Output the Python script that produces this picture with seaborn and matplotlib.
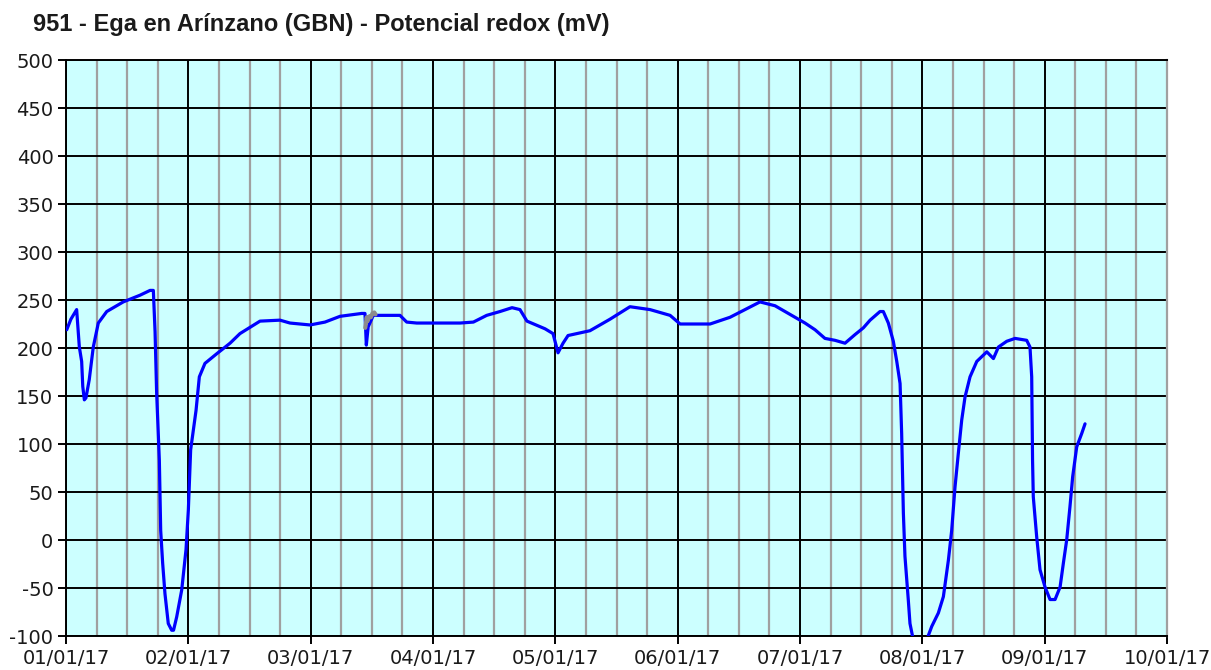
import matplotlib
matplotlib.use("Agg")
import matplotlib.pyplot as plt
from matplotlib.ticker import MultipleLocator, FixedLocator
import seaborn as sns
import pandas as pd

# ---- data (x = months since 01/01/17; axis uses equal month spacing) ----
mes = [0.006, 0.04, 0.087, 0.109, 0.128, 0.137, 0.150, 0.163, 0.190, 0.223,
       0.264, 0.333, 0.468, 0.605, 0.687, 0.714, 0.728, 0.741, 0.763, 0.774,
       0.790, 0.809, 0.836, 0.864, 0.879, 0.905, 0.946, 0.981, 1.000, 1.019,
       1.063, 1.090, 1.136, 1.232, 1.341, 1.422, 1.586, 1.749, 1.831, 1.995,
       2.117, 2.240, 2.417, 2.444, 2.455, 2.470, 2.512, 2.730, 2.785, 2.867,
       3.003, 3.221, 3.330, 3.439, 3.548, 3.646, 3.711, 3.768, 3.916, 3.981,
       4.022, 4.063, 4.104, 4.283, 4.447, 4.610, 4.774, 4.938, 5.020, 5.265,
       5.428, 5.551, 5.673, 5.796, 5.918, 6.041, 6.123, 6.204, 6.286, 6.368,
       6.450, 6.518, 6.573, 6.654, 6.681, 6.722, 6.763, 6.791, 6.818, 6.831,
       6.845, 6.858, 6.885, 6.899, 6.926, 6.970, 7.010, 7.036, 7.077, 7.131,
       7.172, 7.213, 7.240, 7.267, 7.294, 7.322, 7.349, 7.390, 7.445, 7.527,
       7.581, 7.622, 7.690, 7.758, 7.853, 7.880, 7.894, 7.901, 7.907, 7.935,
       7.962, 8.003, 8.044, 8.085, 8.126, 8.153, 8.180, 8.207, 8.229, 8.262,
       8.303, 8.330]
redox = [219, 230, 240, 201, 186, 160, 146, 148, 167, 201,
         226, 238, 248, 255, 260, 260, 217, 153, 83, 10,
         -24, -56, -87, -94, -94, -80, -52, -10, 31, 94,
         135, 170, 184, 194, 205, 215, 228, 229, 226, 224,
         227, 233, 236, 236, 203, 222, 234, 234, 227, 226,
         226, 226, 227, 234, 238, 242, 240, 228, 220, 215,
         195, 205, 213, 218, 230, 243, 240, 234, 225, 225,
         232, 240, 248, 244, 235, 226, 219, 210, 208, 205,
         214, 221, 229, 238, 238, 226, 207, 186, 163, 111,
         28, -17, -62, -87, -104, -118, -112, -104, -90, -76,
         -59, -21, 10, 55, 90, 125, 149, 170, 186, 196,
         189, 201, 207, 210, 208, 201, 170, 83, 45, 3,
         -31, -49, -62, -62, -49, -24, 0, 35, 66, 97,
         111, 121]

# unvalidated (grey) stretch
mes_gris = [2.446, 2.452, 2.458, 2.465, 2.472, 2.480, 2.492, 2.505, 2.520, 2.530]
redox_gris = [221, 226, 232, 228, 231, 233, 232, 236, 237, 235]

etiquetas_x = ["01/01/17", "02/01/17", "03/01/17", "04/01/17", "05/01/17",
               "06/01/17", "07/01/17", "08/01/17", "09/01/17", "10/01/17"]
titulo = "951 - Ega en Arínzano (GBN) - Potencial redox (mV)"

df = pd.DataFrame({"mes": mes, "redox": redox})
df_gris = pd.DataFrame({"mes": mes_gris, "redox": redox_gris})

sns.set_style("white")
plt.rcParams["font.family"] = ["DejaVu Sans"]
plt.rcParams["axes.unicode_minus"] = False

fig = plt.figure(figsize=(12.11, 6.70), dpi=100)
ax = fig.add_axes([66/1211, 34/670, (1167-66)/1211, (636-60)/670])
ax.set_facecolor("#ccffff")

# grid
ax.set_xlim(0, 9)
ax.set_ylim(-100, 500)
ax.xaxis.set_major_locator(FixedLocator(range(len(etiquetas_x))))
ax.xaxis.set_minor_locator(MultipleLocator(0.25))
ax.yaxis.set_major_locator(MultipleLocator(50))
ax.grid(which="minor", axis="x", color="#a0a0a0", linewidth=1.6, zorder=0)
ax.grid(which="major", axis="x", color="black", linewidth=1.4, zorder=1)
ax.grid(which="major", axis="y", color="black", linewidth=1.4, zorder=1)
ax.set_axisbelow(True)

sns.lineplot(data=df, x="mes", y="redox", ax=ax, color="#0000ff", linewidth=2.3,
             sort=False, estimator=None, zorder=3)
sns.lineplot(data=df_gris, x="mes", y="redox", ax=ax, color="#8c8c8c", linewidth=3.0,
             sort=False, estimator=None, zorder=4)

ax.set_xticks(range(len(etiquetas_x)))
ax.set_xticklabels(etiquetas_x)
ax.set_xlabel("")
ax.set_ylabel("")
ax.tick_params(axis="both", which="major", direction="out", length=6, width=1.4,
               color="black", labelsize=14, labelcolor="#1a1a1a", pad=3)
ax.tick_params(axis="x", which="minor", length=0)
ax.tick_params(bottom=True, left=True)

for s in ["left", "bottom", "top"]:
    ax.spines[s].set_color("black")
    ax.spines[s].set_linewidth(1.4)
ax.spines["right"].set_color("#a0a0a0")
ax.spines["right"].set_linewidth(1.6)

fig.text(33/1211, 1 - 25/670, titulo, fontsize=17, fontweight="bold",
         family=["Liberation Sans", "DejaVu Sans"],
         color="#1a1a1a", ha="left", va="center")

fig.savefig("out.png", dpi=100, facecolor="white")
